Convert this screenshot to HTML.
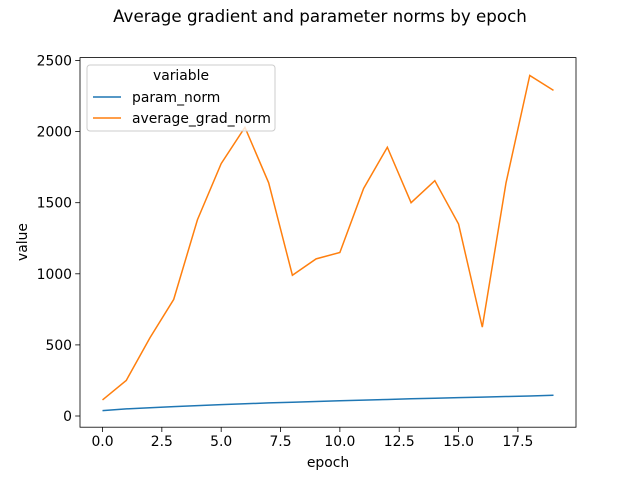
<!DOCTYPE html>
<html><head><meta charset="utf-8"><style>
body{margin:0;background:#fff;}
svg text{font-family:"DejaVu Sans","Liberation Sans",sans-serif;fill:#000;}
</style></head><body>
<svg id="chart" width="640" height="480" xmlns="http://www.w3.org/2000/svg">
<text x="320" y="22" font-size="16.7" text-anchor="middle">Average gradient and parameter norms by epoch</text>
<g id="axes"></g>
<rect x="80" y="57.6" width="496" height="369.6" fill="none" stroke="#000" stroke-width="0.8"/>
<text x="328" y="467" font-size="13.9" text-anchor="middle">epoch</text>
<text transform="translate(27,242) rotate(-90)" font-size="13.9" text-anchor="middle">value</text>
<g>
<rect x="87" y="65" width="188" height="66" rx="3" fill="#fff" fill-opacity="0.8" stroke="#ccc"/>
<text x="181" y="80" font-size="13.9" text-anchor="middle">variable</text>
<line x1="93" y1="97" x2="121" y2="97" stroke="#1f77b4" stroke-width="1.5"/>
<text x="132" y="102" font-size="13.9">param_norm</text>
<line x1="93" y1="118" x2="121" y2="118" stroke="#ff7f0e" stroke-width="1.5"/>
<text x="132" y="123" font-size="13.9">average_grad_norm</text>
</g>
</svg>
<script>
const epochs=[0,1,2,3,4,5,6,7,8,9,10,11,12,13,14,15,16,17,18,19];
const paramNorm=[38,50,58,66,73,80,86,92,97,102,107,112,116,121,125,129,133,137,141,146];
const gradNorm=[113,250,550,820,1380,1775,2030,1640,990,1105,1150,1600,1890,1500,1655,1350,625,1640,2395,2290];
const xTicks=[0,2.5,5,7.5,10,12.5,15,17.5];
const xTickLabels=["0.0","2.5","5.0","7.5","10.0","12.5","15.0","17.5"];
const yTicks=[0,500,1000,1500,2000,2500];
const yTickLabels=["0","500","1000","1500","2000","2500"];
const NS="http://www.w3.org/2000/svg";
const xs=v=>102.5+v*(553.5-102.5)/19;
const ys=v=>416+(60.5-416)*v/2500;
const g=document.getElementById('axes');
function mk(t,a){const e=document.createElementNS(NS,t);for(const k in a)e.setAttribute(k,a[k]);g.appendChild(e);return e;}
xTicks.forEach((t,i)=>{
 const l=mk('line',{x1:xs(t),x2:xs(t),y1:427.2,y2:432,stroke:'#000','stroke-width':0.8});
 
 
 const tx=mk('text',{x:xs(t),y:446,'font-size':13.9,'text-anchor':'middle'});tx.textContent=xTickLabels[i];
 
 
});
yTicks.forEach((t,i)=>{
 const l=mk('line',{x1:75.2,x2:80,y1:ys(t),y2:ys(t),stroke:'#000','stroke-width':0.8});
 
 
 const tx=mk('text',{x:72,y:ys(t)+5,'font-size':13.9,'text-anchor':'end'});tx.textContent=yTickLabels[i];
 
 
});
const p1=mk('polyline',{points:epochs.map((e,i)=>xs(e)+','+ys(paramNorm[i])).join(' '),fill:'none',stroke:'#1f77b4','stroke-width':1.5});


const p2=mk('polyline',{points:epochs.map((e,i)=>xs(e)+','+ys(gradNorm[i])).join(' '),fill:'none',stroke:'#ff7f0e','stroke-width':1.5});


</script>
</body></html>
